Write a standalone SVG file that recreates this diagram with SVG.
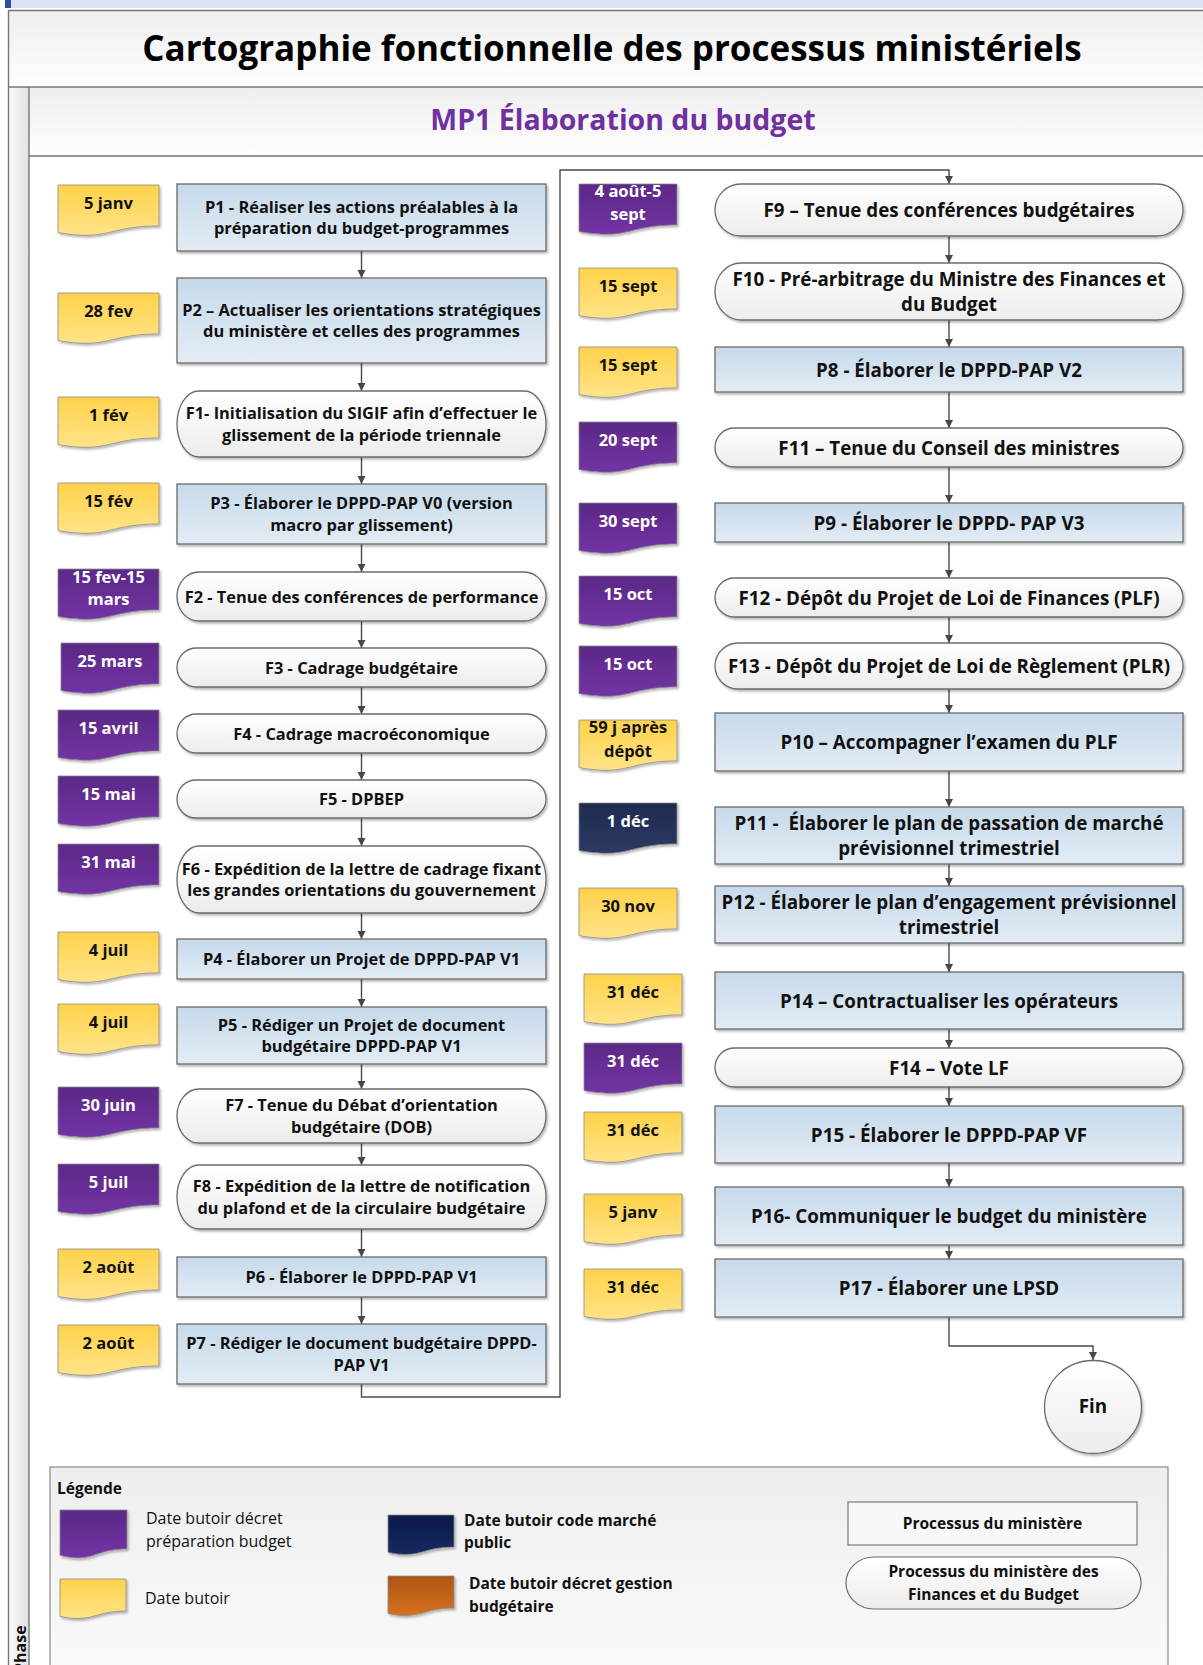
<svg xmlns="http://www.w3.org/2000/svg" xmlns:xlink="http://www.w3.org/1999/xlink" width="1203" height="1665" viewBox="0 0 1203 1665">
<defs>
<linearGradient id="gYel" x1="0" y1="0" x2="0" y2="1"><stop offset="0" stop-color="#ffd24a"/><stop offset="1" stop-color="#ffe388"/></linearGradient>
<linearGradient id="gPur" x1="0" y1="0" x2="0" y2="1"><stop offset="0" stop-color="#5b2986"/><stop offset="1" stop-color="#7333a5"/></linearGradient>
<linearGradient id="gNav" x1="0" y1="0" x2="0" y2="1"><stop offset="0" stop-color="#1e2b50"/><stop offset="1" stop-color="#2c3a64"/></linearGradient>
<linearGradient id="gNav2" x1="0" y1="0" x2="0" y2="1"><stop offset="0" stop-color="#0a1a48"/><stop offset="1" stop-color="#172a62"/></linearGradient>
<linearGradient id="gOra" x1="0" y1="0" x2="0" y2="1"><stop offset="0" stop-color="#ae5512"/><stop offset="1" stop-color="#d6711f"/></linearGradient>
<linearGradient id="gBlue" x1="0" y1="0" x2="0" y2="1"><stop offset="0" stop-color="#c6d9ea"/><stop offset="1" stop-color="#e3ecf5"/></linearGradient>
<linearGradient id="gWhite" x1="0" y1="0" x2="0" y2="1"><stop offset="0" stop-color="#ffffff"/><stop offset="1" stop-color="#ececec"/></linearGradient>
<linearGradient id="gBand" x1="0" y1="0" x2="0" y2="1"><stop offset="0" stop-color="#eeeeee"/><stop offset="1" stop-color="#fefefe"/></linearGradient>
<linearGradient id="gStrip" x1="0" y1="0" x2="1" y2="0"><stop offset="0" stop-color="#fbfbfb"/><stop offset="1" stop-color="#e2e2e2"/></linearGradient>
<linearGradient id="gLeg" x1="0" y1="0" x2="0" y2="1"><stop offset="0" stop-color="#eeeeee"/><stop offset="1" stop-color="#fbfbfb"/></linearGradient>
<filter id="sh" x="-5%" y="-10%" width="115%" height="135%"><feDropShadow dx="1.5" dy="2" stdDeviation="1.2" flood-color="#000" flood-opacity="0.28"/></filter>
<marker id="arr" markerUnits="userSpaceOnUse" markerWidth="9" markerHeight="9" refX="8" refY="4" orient="auto"><path d="M0,0 L8,4 L0,8 Z" fill="#474747"/></marker>
<path id="tagL" d="M0,0 H101 V40.9 C50.5,40.9 50.5,56.5 0,47.6 Z"/>
<path id="tagR" d="M0,0 H98 V40.9 C49,40.9 49,56.5 0,47.6 Z"/>
<path id="tagS1" d="M0,0 H67 V38.9 C33.5,38.9 33.5,53.7 0,45.3 Z"/>
<path id="tagS2" d="M0,0 H66 V32.1 C33,32.1 33,44.3 0,37.4 Z"/>
<style>
text{font-family:"Open Sans","Noto Sans","DejaVu Sans",sans-serif;}
.t{font-size:16.4px;font-weight:700;fill:#111;text-anchor:middle;}
.tr{font-size:18.8px;font-weight:700;fill:#111;text-anchor:middle;}
.dt{font-size:16.5px;font-weight:700;text-anchor:middle;}
.dk{fill:#111;}
.dw{fill:#fff;}
.p{fill:url(#gBlue);stroke:#6b6b6b;stroke-width:1.3;filter:url(#sh);}
.f{fill:url(#gWhite);stroke:#6b6b6b;stroke-width:1.3;filter:url(#sh);}
.tag{stroke:#8a8a8a;stroke-width:0.8;filter:url(#sh);}
.c{fill:none;stroke:#4a4a4a;stroke-width:1.4;marker-end:url(#arr);}
.fr{fill:none;stroke:#767676;stroke-width:1.4;}
.lg{font-size:16px;fill:#111;}
.lgb{font-size:15.5px;font-weight:700;fill:#111;}
</style>
</defs>

<rect x="0" y="0" width="1203" height="1665" fill="#ffffff"/>
<!-- top strip -->
<rect x="11" y="0" width="1192" height="8" fill="#d9e2f3"/>
<rect x="5" y="0" width="6" height="8" fill="#2f4f9b"/>

<!-- frame -->
<rect x="8.5" y="10" width="1200" height="77" fill="url(#gBand)"/>
<rect x="8.5" y="87" width="20.5" height="1590" fill="url(#gStrip)"/>
<rect x="29" y="87" width="1180" height="69" fill="url(#gBand)"/>
<path class="fr" d="M1210 10.5 H8.5 V1670 M8.5 87 H1210 M29 87 V1670 M29 156 H1210"/>
<text x="612" y="61" font-size="35" font-weight="700" fill="#000" text-anchor="middle">Cartographie fonctionnelle des processus ministériels</text>
<text x="623" y="130" font-size="28.5" font-weight="700" fill="#7030a0" text-anchor="middle">MP1 Élaboration du budget</text>
<text transform="translate(26,1673) rotate(-90)" font-size="16" font-weight="700" fill="#111">Phase</text>

<!-- connectors -->
<g id="connectors">
<path class="c" d="M361.5 251 V278"/>
<path class="c" d="M361.5 363 V391"/>
<path class="c" d="M361.5 457 V484"/>
<path class="c" d="M361.5 544 V572"/>
<path class="c" d="M361.5 621 V648"/>
<path class="c" d="M361.5 687 V714"/>
<path class="c" d="M361.5 753 V780"/>
<path class="c" d="M361.5 818 V846"/>
<path class="c" d="M361.5 913 V939"/>
<path class="c" d="M361.5 979 V1007"/>
<path class="c" d="M361.5 1064 V1089"/>
<path class="c" d="M361.5 1143 V1165"/>
<path class="c" d="M361.5 1229 V1257"/>
<path class="c" d="M361.5 1297 V1324"/>
<path class="c" d="M361.5 1384 V1397 H560 V170 H949 V184"/>
<path class="c" d="M949 236 V263"/>
<path class="c" d="M949 320 V347"/>
<path class="c" d="M949 392 V428"/>
<path class="c" d="M949 467 V503"/>
<path class="c" d="M949 542 V578"/>
<path class="c" d="M949 617 V643"/>
<path class="c" d="M949 689 V713"/>
<path class="c" d="M949 771 V807"/>
<path class="c" d="M949 864 V886"/>
<path class="c" d="M949 943 V972"/>
<path class="c" d="M949 1029 V1048"/>
<path class="c" d="M949 1087 V1106"/>
<path class="c" d="M949 1163 V1187"/>
<path class="c" d="M949 1245 V1259"/>
<path class="c" d="M949 1317 V1346 H1093 V1360"/>
</g>

<!-- left column processes -->
<g id="P1"><rect class="p" x="177" y="184" width="369" height="67"/><text class="t" x="361.5" y="212.7">P1 - Réaliser les actions préalables à la</text><text class="t" x="361.5" y="234.2">préparation du budget-programmes</text></g>
<g id="P2"><rect class="p" x="177" y="278" width="369" height="85"/><text class="t" x="361.5" y="315.7">P2 – Actualiser les orientations stratégiques</text><text class="t" x="361.5" y="337.2">du ministère et celles des programmes</text></g>
<g id="F1"><rect class="f" x="177" y="391" width="369" height="66" rx="22" ry="33"/><text class="t" x="361.5" y="419.2">F1- Initialisation du SIGIF afin d’effectuer le</text><text class="t" x="361.5" y="440.7">glissement de la période triennale</text></g>
<g id="P3"><rect class="p" x="177" y="484" width="369" height="60"/><text class="t" x="361.5" y="509.2">P3 - Élaborer le DPPD-PAP V0 (version</text><text class="t" x="361.5" y="530.7">macro par glissement)</text></g>
<g id="F2"><rect class="f" x="177" y="572" width="369" height="49" rx="22" ry="24.5"/><text class="t" x="361.5" y="602.5">F2 - Tenue des conférences de performance</text></g>
<g id="F3"><rect class="f" x="177" y="648" width="369" height="39" rx="19.5" ry="19.5"/><text class="t" x="361.5" y="673.5">F3 - Cadrage budgétaire</text></g>
<g id="F4"><rect class="f" x="177" y="714" width="369" height="39" rx="19.5" ry="19.5"/><text class="t" x="361.5" y="739.5">F4 - Cadrage macroéconomique</text></g>
<g id="F5"><rect class="f" x="177" y="780" width="369" height="38" rx="19" ry="19"/><text class="t" x="361.5" y="805">F5 - DPBEP</text></g>
<g id="F6"><rect class="f" x="177" y="846" width="369" height="67" rx="22" ry="33.5"/><text class="t" x="361.5" y="874.7">F6 - Expédition de la lettre de cadrage fixant</text><text class="t" x="361.5" y="896.2">les grandes orientations du gouvernement</text></g>
<g id="P4"><rect class="p" x="177" y="939" width="369" height="40"/><text class="t" x="361.5" y="965">P4 - Élaborer un Projet de DPPD-PAP V1</text></g>
<g id="P5"><rect class="p" x="177" y="1007" width="369" height="57"/><text class="t" x="361.5" y="1030.7">P5 - Rédiger un Projet de document</text><text class="t" x="361.5" y="1052.2">budgétaire DPPD-PAP V1</text></g>
<g id="F7"><rect class="f" x="177" y="1089" width="369" height="54" rx="22" ry="27"/><text class="t" x="361.5" y="1111.2">F7 - Tenue du Débat d’orientation</text><text class="t" x="361.5" y="1132.7">budgétaire (DOB)</text></g>
<g id="F8"><rect class="f" x="177" y="1165" width="369" height="64" rx="22" ry="32"/><text class="t" x="361.5" y="1192.2">F8 - Expédition de la lettre de notification</text><text class="t" x="361.5" y="1213.7">du plafond et de la circulaire budgétaire</text></g>
<g id="P6"><rect class="p" x="177" y="1257" width="369" height="40"/><text class="t" x="361.5" y="1283">P6 - Élaborer le DPPD-PAP V1</text></g>
<g id="P7"><rect class="p" x="177" y="1324" width="369" height="60"/><text class="t" x="361.5" y="1349.2">P7 - Rédiger le document budgétaire DPPD-</text><text class="t" x="361.5" y="1370.7">PAP V1</text></g>

<!-- right column processes -->
<g id="F9"><rect class="f" x="715" y="184" width="468" height="52" rx="26" ry="26"/><text class="tr" x="949" y="217">F9 – Tenue des conférences budgétaires</text></g>
<g id="F10"><rect class="f" x="715" y="263" width="468" height="57" rx="26" ry="28.5"/><text class="tr" x="949" y="286">F10 - Pré-arbitrage du Ministre des Finances et</text><text class="tr" x="949" y="311">du Budget</text></g>
<g id="P8"><rect class="p" x="715" y="347" width="468" height="45"/><text class="tr" x="949" y="376.5">P8 - Élaborer le DPPD-PAP V2</text></g>
<g id="F11"><rect class="f" x="715" y="428" width="468" height="39" rx="19.5" ry="19.5"/><text class="tr" x="949" y="454.5">F11 – Tenue du Conseil des ministres</text></g>
<g id="P9"><rect class="p" x="715" y="503" width="468" height="39"/><text class="tr" x="949" y="529.5">P9 - Élaborer le DPPD- PAP V3</text></g>
<g id="F12"><rect class="f" x="715" y="578" width="468" height="39" rx="19.5" ry="19.5"/><text class="tr" x="949" y="604.5">F12 - Dépôt du Projet de Loi de Finances (PLF)</text></g>
<g id="F13"><rect class="f" x="715" y="643" width="468" height="46" rx="23" ry="23"/><text class="tr" x="949" y="673">F13 - Dépôt du Projet de Loi de Règlement (PLR)</text></g>
<g id="P10"><rect class="p" x="715" y="713" width="468" height="58"/><text class="tr" x="949" y="749">P10 – Accompagner l’examen du PLF</text></g>
<g id="P11"><rect class="p" x="715" y="807" width="468" height="57"/><text class="tr" x="949" y="830">P11 -&#160; Élaborer le plan de passation de marché</text><text class="tr" x="949" y="855">prévisionnel trimestriel</text></g>
<g id="P12"><rect class="p" x="715" y="886" width="468" height="57"/><text class="tr" x="949" y="909">P12 - Élaborer le plan d’engagement prévisionnel</text><text class="tr" x="949" y="934">trimestriel</text></g>
<g id="P14"><rect class="p" x="715" y="972" width="468" height="57"/><text class="tr" x="949" y="1007.5">P14 – Contractualiser les opérateurs</text></g>
<g id="F14"><rect class="f" x="715" y="1048" width="468" height="39" rx="19.5" ry="19.5"/><text class="tr" x="949" y="1074.5">F14 – Vote LF</text></g>
<g id="P15"><rect class="p" x="715" y="1106" width="468" height="57"/><text class="tr" x="949" y="1141.5">P15 - Élaborer le DPPD-PAP VF</text></g>
<g id="P16"><rect class="p" x="715" y="1187" width="468" height="58"/><text class="tr" x="949" y="1223">P16- Communiquer le budget du ministère</text></g>
<g id="P17"><rect class="p" x="715" y="1259" width="468" height="58"/><text class="tr" x="949" y="1295">P17 - Élaborer une LPSD</text></g>
<g id="Fin"><ellipse class="f" cx="1093" cy="1407" rx="48.5" ry="46.5"/><text class="tr" x="1093" y="1413" font-size="17">Fin</text></g>

<!-- date tags left -->
<g id="D1"><use class="tag" href="#tagL" x="58" y="185" fill="url(#gYel)"/><text class="dt dk" x="108.5" y="209">5 janv</text></g>
<g id="D2"><use class="tag" href="#tagL" x="58" y="293" fill="url(#gYel)"/><text class="dt dk" x="108.5" y="317">28 fev</text></g>
<g id="D3"><use class="tag" href="#tagL" x="58" y="397" fill="url(#gYel)"/><text class="dt dk" x="108.5" y="421">1 fév</text></g>
<g id="D4"><use class="tag" href="#tagL" x="58" y="483" fill="url(#gYel)"/><text class="dt dk" x="108.5" y="507">15 fév</text></g>
<g id="D5"><use class="tag" href="#tagL" x="58" y="569" fill="url(#gPur)"/><text class="dt dw" x="108.5" y="583">15 fev-15</text><text class="dt dw" x="108.5" y="605">mars</text></g>
<g id="D6"><use class="tag" href="#tagR" x="61" y="643" fill="url(#gPur)"/><text class="dt dw" x="110" y="667">25 mars</text></g>
<g id="D7"><use class="tag" href="#tagL" x="58" y="710" fill="url(#gPur)"/><text class="dt dw" x="108.5" y="734">15 avril</text></g>
<g id="D8"><use class="tag" href="#tagL" x="58" y="776" fill="url(#gPur)"/><text class="dt dw" x="108.5" y="800">15 mai</text></g>
<g id="D9"><use class="tag" href="#tagL" x="58" y="844" fill="url(#gPur)"/><text class="dt dw" x="108.5" y="868">31 mai</text></g>
<g id="D10"><use class="tag" href="#tagL" x="58" y="932" fill="url(#gYel)"/><text class="dt dk" x="108.5" y="956">4 juil</text></g>
<g id="D11"><use class="tag" href="#tagL" x="58" y="1004" fill="url(#gYel)"/><text class="dt dk" x="108.5" y="1028">4 juil</text></g>
<g id="D12"><use class="tag" href="#tagL" x="58" y="1087" fill="url(#gPur)"/><text class="dt dw" x="108.5" y="1111">30 juin</text></g>
<g id="D13"><use class="tag" href="#tagL" x="58" y="1164" fill="url(#gPur)"/><text class="dt dw" x="108.5" y="1188">5 juil</text></g>
<g id="D14"><use class="tag" href="#tagL" x="58" y="1249" fill="url(#gYel)"/><text class="dt dk" x="108.5" y="1273">2 août</text></g>
<g id="D15"><use class="tag" href="#tagL" x="58" y="1325" fill="url(#gYel)"/><text class="dt dk" x="108.5" y="1349">2 août</text></g>

<!-- date tags right -->
<g id="D16"><use class="tag" href="#tagR" x="579" y="184" fill="url(#gPur)"/><text class="dt dw" x="628" y="197">4 août-5</text><text class="dt dw" x="628" y="220">sept</text></g>
<g id="D17"><use class="tag" href="#tagR" x="579" y="268" fill="url(#gYel)"/><text class="dt dk" x="628" y="292">15 sept</text></g>
<g id="D18"><use class="tag" href="#tagR" x="579" y="347" fill="url(#gYel)"/><text class="dt dk" x="628" y="371">15 sept</text></g>
<g id="D19"><use class="tag" href="#tagR" x="579" y="422" fill="url(#gPur)"/><text class="dt dw" x="628" y="446">20 sept</text></g>
<g id="D20"><use class="tag" href="#tagR" x="579" y="503" fill="url(#gPur)"/><text class="dt dw" x="628" y="527">30 sept</text></g>
<g id="D21"><use class="tag" href="#tagR" x="579" y="576" fill="url(#gPur)"/><text class="dt dw" x="628" y="600">15 oct</text></g>
<g id="D22"><use class="tag" href="#tagR" x="579" y="646" fill="url(#gPur)"/><text class="dt dw" x="628" y="670">15 oct</text></g>
<g id="D23"><use class="tag" href="#tagR" x="579" y="720" fill="url(#gYel)"/><text class="dt dk" x="628" y="733">59 j après</text><text class="dt dk" x="628" y="757">dépôt</text></g>
<g id="D24"><use class="tag" href="#tagR" x="579" y="803" fill="url(#gNav)"/><text class="dt dw" x="628" y="827">1 déc</text></g>
<g id="D25"><use class="tag" href="#tagR" x="579" y="888" fill="url(#gYel)"/><text class="dt dk" x="628" y="912">30 nov</text></g>
<g id="D26"><use class="tag" href="#tagR" x="584" y="974" fill="url(#gYel)"/><text class="dt dk" x="633" y="998">31 déc</text></g>
<g id="D27"><use class="tag" href="#tagR" x="584" y="1043" fill="url(#gPur)"/><text class="dt dw" x="633" y="1067">31 déc</text></g>
<g id="D28"><use class="tag" href="#tagR" x="584" y="1112" fill="url(#gYel)"/><text class="dt dk" x="633" y="1136">31 déc</text></g>
<g id="D29"><use class="tag" href="#tagR" x="584" y="1194" fill="url(#gYel)"/><text class="dt dk" x="633" y="1218">5 janv</text></g>
<g id="D30"><use class="tag" href="#tagR" x="584" y="1269" fill="url(#gYel)"/><text class="dt dk" x="633" y="1293">31 déc</text></g>

<!-- legend -->
<g id="legend">
<rect x="50" y="1467" width="1118" height="230" fill="url(#gLeg)" stroke="#8a8a8a" stroke-width="1.2"/>
<text class="lgb" x="57" y="1494">Légende</text>
<use class="tag" href="#tagS1" x="60" y="1510" fill="url(#gPur)"/>
<text class="lg" x="146" y="1524">Date butoir décret</text>
<text class="lg" x="146" y="1547">préparation budget</text>
<use class="tag" href="#tagS2" x="60" y="1579" fill="url(#gYel)"/>
<text class="lg" x="145" y="1604">Date butoir</text>
<use class="tag" href="#tagS2" x="388" y="1515" fill="url(#gNav2)"/>
<text class="lgb" x="464" y="1526">Date butoir code marché</text>
<text class="lgb" x="464" y="1548">public</text>
<use class="tag" href="#tagS2" x="388" y="1576" fill="url(#gOra)"/>
<text class="lgb" x="469" y="1589">Date butoir décret gestion</text>
<text class="lgb" x="469" y="1612">budgétaire</text>
<rect x="848" y="1502" width="289" height="43" fill="#f8f8f8" stroke="#7a7a7a" stroke-width="1.2"/>
<text class="lgb" x="992.5" y="1529" text-anchor="middle">Processus du ministère</text>
<rect x="846" y="1557" width="295" height="52" rx="28" ry="26" fill="url(#gWhite)" stroke="#6b6b6b" stroke-width="1.2"/>
<text class="lgb" x="993.5" y="1577" text-anchor="middle">Processus du ministère des</text>
<text class="lgb" x="993.5" y="1600" text-anchor="middle">Finances et du Budget</text>
</g>
</svg>
